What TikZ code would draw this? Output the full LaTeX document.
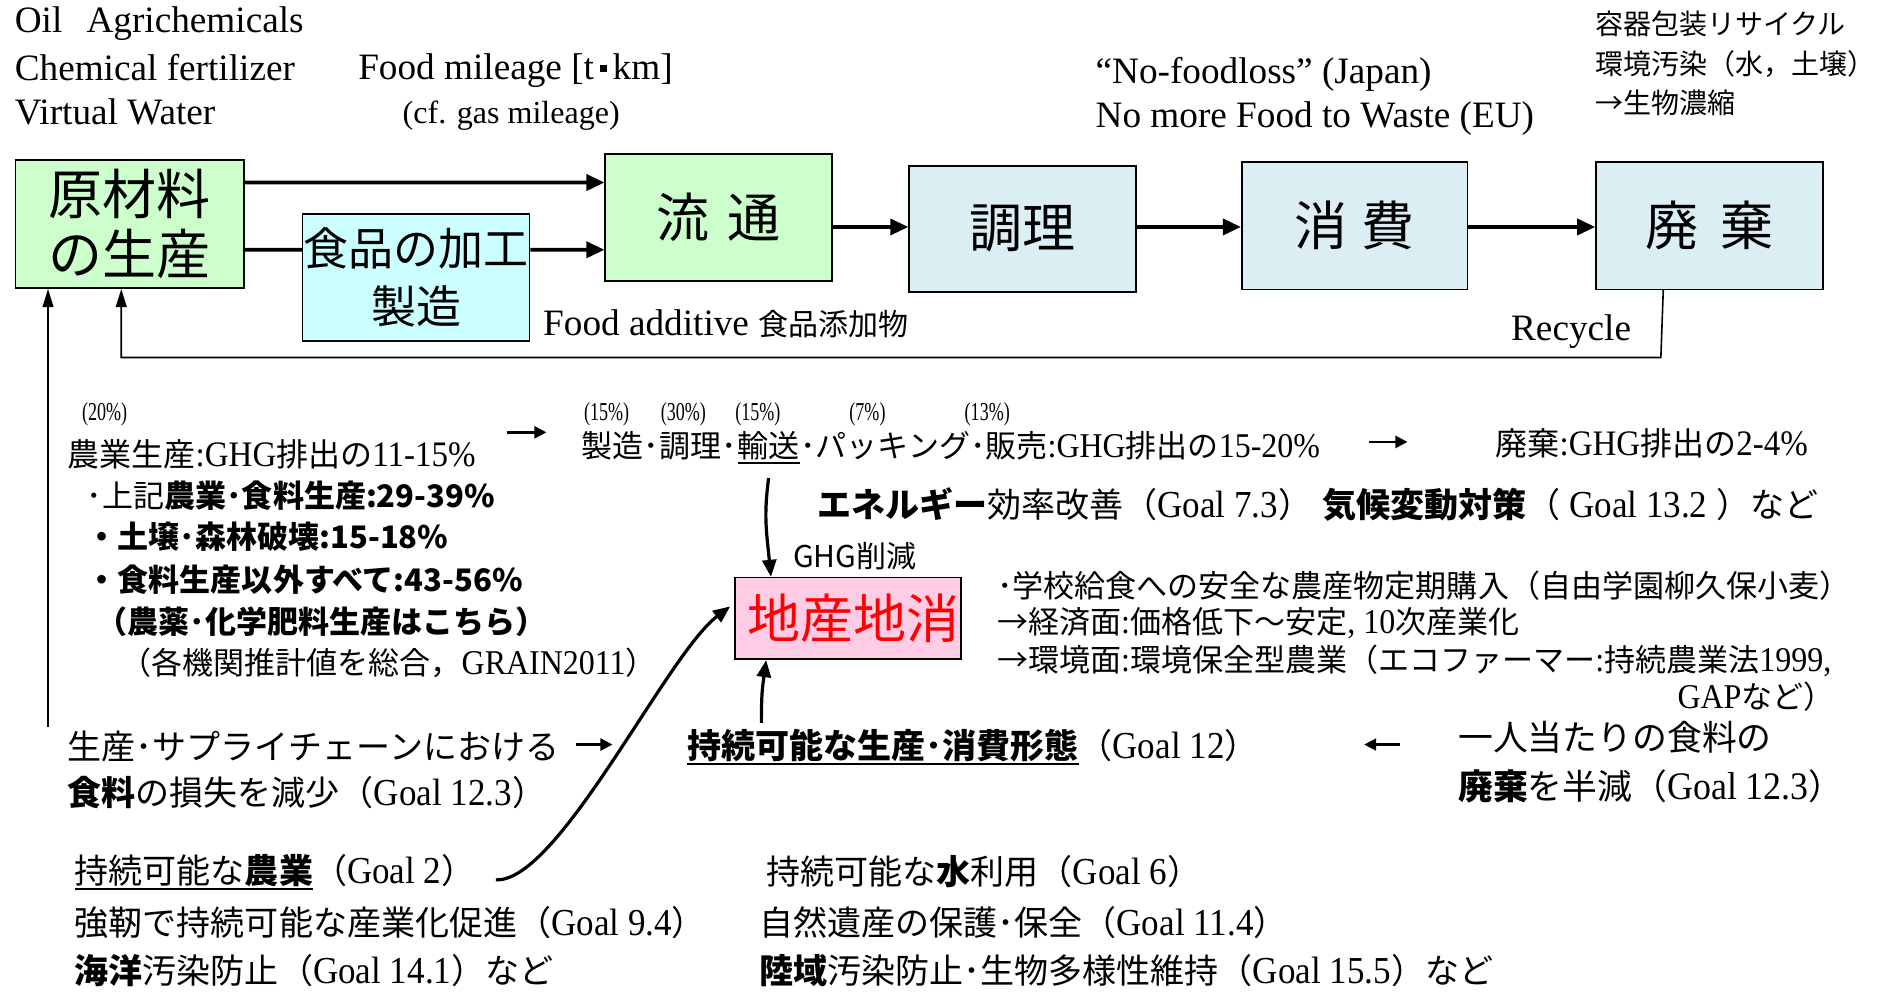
\documentclass[tikz,border=0pt]{standalone}
\usepackage{fontspec}
\setmainfont{Liberation Serif}
\newfontfamily\jpf{Noto Sans CJK JP}
\newfontfamily\nlf[Scale=1.12,FakeStretch=0.92]{Liberation Serif}
\newfontfamily\pcf[Scale=1.12,FakeStretch=0.7]{Liberation Serif}
\usetikzlibrary{arrows.meta,calc}
\definecolor{gbox}{HTML}{CCFFCC}
\definecolor{cbox}{HTML}{CCFFFF}
\definecolor{bbox}{HTML}{DAEEF3}
\definecolor{pbox}{HTML}{FFCCE5}
\newcommand\myul[1]{\setbox0\hbox{#1}\rlap{\rule[-3.2pt]{\wd0}{0.8pt}}\box0}
\newcommand\fs[1]{\fontsize{#1}{#1}\selectfont}
\newcommand\jtxt[1]{{\jpf #1}}
\newcommand\jbold[1]{{\jpf\bfseries #1}}
\newcommand\ltxt[1]{{\nlf #1}}
\newcommand\sqdot{\,\raisebox{0.22em}{\rule{0.17em}{0.17em}}\,}
\tikzset{
  box/.style={draw, line width=0.8pt, inner sep=0pt, align=center},
  flow/.style={line width=1.8pt, -{Triangle[length=9pt,width=8pt]}},
  recarr/.style={line width=0.8pt, -{Triangle[length=9pt,width=5.4pt]}},
  curvearr/.style={line width=1.6pt, -{Triangle[length=8.5pt,width=7pt]}},
  midarr/.style={line width=1.2pt, -{Triangle[length=6pt,width=6pt]}},
  txt/.style={inner sep=0pt, anchor=west},
  entxt/.style={txt, font=\fs{18.6}},
  pct/.style={txt, font=\pcf\fs{11.5}},
}
\begin{document}
\begin{tikzpicture}[x=0.6pt,y=-0.6pt]
\fill[white] (0,0) rectangle (1568,826);
\useasboundingbox (0,0) rectangle (1568,826);

% boxes
\node[box, fill=gbox, minimum width=114pt, minimum height=64.2pt, font=\jpf\fs{27}] (gen) at (108,186.5) {原材料\\[3pt]の生産};
\node[box, fill=cbox, minimum width=113.4pt, minimum height=63.6pt, font=\jpf\fs{22.5}] (shoku) at (346.5,231) {食品の加工\\[6pt]製造};
\node[box, fill=gbox, minimum width=113.4pt, minimum height=63.6pt, font=\jpf\fs{26.5}] (ryu) at (598.5,181) {流\hspace{0.33em}通};
\node[box, fill=bbox, minimum width=113.4pt, minimum height=63pt, font=\jpf\fs{26.5}] (chori) at (851.5,190.5) {調理};
\node[box, fill=bbox, minimum width=112.8pt, minimum height=63.6pt, font=\jpf\fs{26.5}] (shohi) at (1128,188) {消\hspace{0.25em}費};
\node[box, fill=bbox, minimum width=113.4pt, minimum height=63.6pt, font=\jpf\fs{26.5}] (haiki) at (1423.5,188) {廃\hspace{0.42em}棄};
\node[box, fill=pbox, minimum width=112.8pt, minimum height=40.8pt, font=\jpf\fs{26.5}, text=red] (chisan) at (706,515) {\hspace{6pt}地産地消};

% top labels
\node[entxt] (oil) at (12,20) {Oil\hspace{0.65em}Agrichemicals};
\node[entxt] (chem) at (12,56) {Chemical fertilizer};
\node[entxt] (vw) at (12,93) {Virtual Water};
\node[entxt] (fm) at (298,59) {Food mileage [t\sqdot km]};
\node[txt, font=\fs{16}] (gas) at (335,96) {(cf. gas mileage)};
\node[entxt] (nofl) at (912,62) {“No-foodloss” (Japan)};
\node[entxt] (nomore) at (912,99) {No more Food to Waste (EU)};
\node[txt, font=\jpf\fs{14}] (yoki) at (1328,20) {容器包装リサイクル};
\node[txt, font=\jpf\fs{14}] (kankyo) at (1328,53) {環境汚染（水，土壌）};
\node[txt, font=\jpf\fs{14}] (seibutsu) at (1328,86) {→生物濃縮};
\node[entxt] (fadd) at (452,270) {Food additive {\jpf\fs{15}食品添加物}};
\node[entxt] (rec) at (1258,276) {Recycle};

% flow arrows
\draw[flow] ([yshift=20.7pt]gen.east) -- ([yshift=17.4pt]ryu.west);
\draw[line width=1.8pt] ([yshift=-12.9pt]gen.east) -- ([yshift=13.8pt]shoku.west);
\draw[flow] ([yshift=13.8pt]shoku.east) -- ([yshift=-16.2pt]ryu.west);
\draw[flow] ([yshift=-4.8pt]ryu.east) -- ([yshift=0.9pt]chori.west);
\draw[flow] ([yshift=0.9pt]chori.east) -- ([yshift=-0.6pt]shohi.west);
\draw[flow] ([yshift=-0.6pt]shohi.east) -- ([yshift=-0.6pt]haiki.west);
\draw[recarr] ([xshift=-23.1pt]haiki.south) -- ++(-2,56) -| ([xshift=-4.2pt]gen.south);
\coordinate (lb) at (40,605);
\draw[recarr] (lb) -- (lb |- gen.south);

% middle GHG text
\node[pct] (p20) at (68,345) {(20\%)};
\node[txt, font=\fs{16}] (agri) at (56,378) {\jtxt{農業生産}\ltxt{:GHG}\jtxt{排出の}\ltxt{11-15\%}};
\coordinate (a1s) at (422,360);
\coordinate (a1e) at (455,360);
\draw[midarr] (a1s) -- (a1e);
\node[pct] (p15a) at (486,345) {(15\%)};
\node[pct] (p30) at (550,345) {(30\%)};
\node[pct] (p15b) at (612,345) {(15\%)};
\node[pct] (p7) at (707,345) {(7\%)};
\node[pct] (p13) at (803,345) {(13\%)};
\node[txt, font=\jpf\fs{15.5}] (l2a) at (484,371) {製造･調理･};
\node[inner sep=0pt, anchor=base west, font=\jpf\fs{15.5}] (yuso) at (l2a.base east) {\myul{輸送}};
\node[inner sep=0pt, anchor=base west, font=\fs{15.5}] (l2c) at (yuso.base east) {\jtxt{･パッキング･販売}\ltxt{:GHG}\jtxt{排出の}\ltxt{15-20\%}};
\coordinate (a2s) at (1140,368);
\coordinate (a2e) at (1172,368);
\draw[midarr] (a2s) -- (a2e);
\node[txt, font=\fs{16}] (haiki2) at (1245,369) {\jtxt{廃棄}\ltxt{:GHG}\jtxt{排出の}\ltxt{2-4\%}};

\node[txt, font=\fs{15.5}] (b1) at (72,413) {\jtxt{･上記}\jbold{農業･食料生産:29-39\%}};
\node[txt, font=\fs{15.5}] (b2) at (72,447) {\jbold{・土壌･森林破壊:15-18\%}};
\node[txt, font=\fs{15.5}] (b3) at (72,483) {\jbold{・食料生産以外すべて:43-56\%}};
\node[txt, font=\fs{15.5}] (b4) at (80,518) {\jbold{（農薬･化学肥料生産はこちら）}};
\node[txt, font=\fs{15.5}] (b5) at (100,552) {\jtxt{（各機関推計値を総合，}\ltxt{GRAIN2011}\jtxt{）}};

\node[txt, font=\fs{17}] (ene) at (680,420) {\jbold{エネルギー}\jtxt{効率改善（}\ltxt{Goal 7.3}\jtxt{）}\hspace{0.3em}\jbold{気候変動対策}\jtxt{（}\ltxt{ Goal 13.2 }\jtxt{）など}};
\node[txt, font=\jpf\fs{15}] (ghg) at (660,463) {GHG削減};

\draw[curvearr] ([yshift=-7pt]yuso.south) .. controls +(-4,32) and +(-4,-40) .. ([xshift=-38.4pt]chisan.north);

% right of chisan
\node[txt, font=\fs{15.5}] (r1) at (830,488) {\jtxt{･学校給食への安全な農産物定期購入（自由学園柳久保小麦）}};
\node[txt, font=\fs{15.5}] (r2) at (830,519) {\jtxt{→経済面}\ltxt{:}\jtxt{価格低下～安定}\ltxt{, 10}\jtxt{次産業化}};
\node[txt, font=\fs{15.5}] (r3) at (830,550) {\jtxt{→環境面}\ltxt{:}\jtxt{環境保全型農業（エコファーマー}\ltxt{:}\jtxt{持続農業法}\ltxt{1999,}};
\node[inner sep=0pt, anchor=east, font=\fs{15.5}] (r4) at (1528,580) {\ltxt{GAP}\jtxt{など）}};

% bottom arrow into chisan
\coordinate (c12) at (634,602);
\draw[curvearr] (c12) .. controls +(0,-25) and +(-3,22) .. ([xshift=-40.8pt]chisan.south);

% bottom texts
\node[txt, font=\fs{17}] (sup1) at (56,622) {\jtxt{生産･サプライチェーンにおける}};
\coordinate (a3s) at (480,620);
\coordinate (a3e) at (510,620);
\draw[midarr] (a3s) -- (a3e);
\node[txt, font=\fs{17}] (sup2) at (56,660) {\jbold{食料}\jtxt{の損失を減少（}\ltxt{Goal 12.3}\jtxt{）}};
\node[txt, font=\fs{17}] (sus12) at (572,622) {\jbold{\myul{持続可能な生産･消費形態}}\jtxt{（}\ltxt{Goal 12}\jtxt{）}};
\coordinate (a4s) at (1166,620);
\coordinate (a4e) at (1136,620);
\draw[midarr] (a4s) -- (a4e);
\node[txt, font=\fs{17.4}] (hito1) at (1214,614) {\jtxt{一人当たりの食料の}};
\node[txt, font=\fs{17.4}] (hito2) at (1214,655) {\jbold{廃棄}\jtxt{を半減（}\ltxt{Goal 12.3}\jtxt{）}};

\node[txt, font=\fs{17}] (sagr) at (62,726) {\myul{\jtxt{持続可能な}\jbold{農業}}\jtxt{（}\ltxt{Goal 2}\jtxt{）}};
\node[txt, font=\fs{17}] (kyo) at (62,768) {\jtxt{強靭で持続可能な産業化促進（}\ltxt{Goal 9.4}\jtxt{）}};
\node[txt, font=\fs{17}] (kai) at (62,808) {\jbold{海洋}\jtxt{汚染防止（}\ltxt{Goal 14.1}\jtxt{）など}};
\node[txt, font=\fs{17}] (mizu) at (638,726) {\jtxt{持続可能な}\jbold{水}\jtxt{利用（}\ltxt{Goal 6}\jtxt{）}};
\node[txt, font=\fs{17}] (shizen) at (632,768) {\jtxt{自然遺産の保護･保全（}\ltxt{Goal 11.4}\jtxt{）}};
\node[txt, font=\fs{17}] (riku) at (632,808) {\jbold{陸域}\jtxt{汚染防止･生物多様性維持（}\ltxt{Goal 15.5}\jtxt{）など}};

\draw[curvearr] ([xshift=10pt,yshift=-4pt]sagr.east) .. controls (465,735) and (555,545) .. ([xshift=-2pt,yshift=6pt]chisan.west);
\end{tikzpicture}
\end{document}
